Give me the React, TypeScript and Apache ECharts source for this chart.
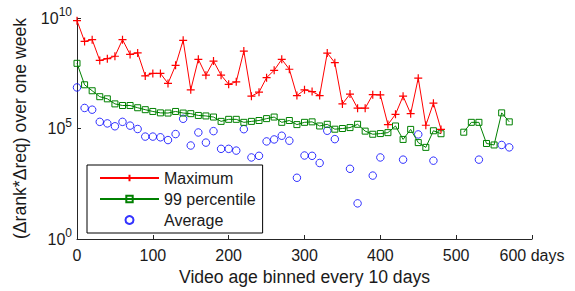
import React, { useEffect, useRef } from "react";
import * as echarts from "echarts";

const days = [
  0, 10, 20, 30, 40, 50, 60, 70, 80, 90, 100, 110, 120, 130, 140, 150, 160, 170, 180, 190,
  200, 210, 220, 230, 240, 250, 260, 270, 280, 290, 300, 310, 320, 330, 340, 350, 360, 370, 380, 390,
  400, 410, 420, 430, 440, 450, 460, 470, 480, 490, 500, 510, 520, 530, 540, 550, 560, 570,
];

const maximum = [
  7.6e9, 8.7e8, 1.05e9, 1.2e8, 1.45e8, 1.86e8, 1.05e9, 2.24e8, 2.63e8, 2.4e7,
  3.1e7, 3.1e7, 1.1e7, 7.2e7, 9.8e8, 5.6e6, 1.35e8, 2.6e7, 1.12e8, 2.6e7,
  1.0e7, 1.3e7, 3.2e8, 2.9e6, 4.4e6, 2.0e7, 4.3e7, 1.35e8, 4.8e7, 3.1e6,
  5.6e6, 4.7e6, 3.1e6, 2.6e8, 9.5e7, 1.3e6, 3.6e6, 8.3e5, 8.3e5, 3.4e6,
  3.3e6, 1.5e5, 4.4e5, 2.9e6, 4.7e5, 1.9e7, 1.4e5, 1.4e6, 9.1e4, null,
  null, null, null, null, null, null, null, null,
];

const percentile99 = [
  8.9e7, 9.5e6, 5.1e6, 2.75e6, 2.2e6, 1.3e6, 1.1e6, 1.1e6, 8.7e5, 7.1e5,
  5.9e5, 5.1e5, 5.0e5, 5.9e5, 5.0e5, 4.7e5, 3.9e5, 3.7e5, 3.3e5, 2.1e5,
  2.6e5, 2.6e5, 1.9e5, 2.1e5, 2.3e5, 2.8e5, 3.3e5, 1.9e5, 2.3e5, 1.5e5,
  1.9e5, 2.0e5, 1.3e5, 1.55e5, 9.3e4, 1.0e5, 1.1e5, 1.55e5, 7.6e4, 5.5e4,
  5.9e4, 6.5e4, 1.3e5, 3.2e4, 9.1e4, 2.3e4, 1.4e4, 7.9e4, 5.8e4, null,
  null, 6.8e4, 1.9e5, 1.9e5, 2.1e4, 1.8e4, 5.1e5, 2.0e5,
];

const average = [
  7.2e6, 8.5e5, 7.1e5, 2.0e5, 1.7e5, 1.26e5, 2.0e5, 1.35e5, 9.5e4, 4.3e4,
  4.3e4, 4.0e4, 3.0e4, 5.6e4, 2.75e5, 1.7e4, 6.6e4, 2.3e4, 7.6e4, 1.2e4,
  1.2e4, 1.0e4, 9.3e4, 4.9e3, 5.8e3, 2.6e4, 3.2e4, 4.7e4, 2.8e4, 5.9e2,
  6.0e3, 5.8e3, 2.75e3, 7.9e4, 3.3e4, null, 1.5e3, 41, null, 7.4e2,
  4.9e3, null, null, 3.9e3, null, 5.4e4, null, 3.5e3, null, null,
  null, null, null, 3.9e3, null, null, 1.8e4, 1.4e4,
];

const seriesNames = ["Maximum", "99 percentile", "Average"];
const xTicks = [0, 100, 200, 300, 400, 500, 600];
const xUnit = "days";

const FONT = "Liberation Sans, Arial, sans-serif";
const TXT = "#1a1a1a";

function pairs(vals: (number | null)[]) {
  return days.map((d, i) => [d, vals[i] == null ? null : vals[i]]);
}

export default function App() {
  const ref = useRef<HTMLDivElement>(null);
  useEffect(() => {
    if (!ref.current) return;
    const chart = echarts.init(ref.current, undefined, { renderer: "svg" });
    chart.setOption({
      animation: false,
      textStyle: { fontFamily: FONT },
      grid: { left: 77, right: 43, top: 18, bottom: 49, containLabel: false },
      legend: {
        orient: "vertical",
        left: 87,
        top: 165,
        padding: [5, 7, 5, 12],
        itemGap: 5,
        itemWidth: 59,
        itemHeight: 8,
        borderColor: "#000",
        borderWidth: 1,
        backgroundColor: "#fff",
        textStyle: { fontFamily: FONT, fontSize: 16, color: TXT, lineHeight: 16 },
        data: seriesNames,
      },
      xAxis: {
        type: "value",
        min: xTicks[0],
        max: xTicks[xTicks.length - 1],
        interval: 100,
        name: "Video age binned every 10 days",
        nameLocation: "middle",
        nameGap: 29,
        nameTextStyle: { fontFamily: FONT, fontSize: 17.6, color: TXT, verticalAlign: "top" },
        axisLine: { lineStyle: { color: "#262626", width: 1 } },
        axisTick: { inside: true, length: 4, lineStyle: { color: "#262626" } },
        axisLabel: {
          fontFamily: FONT,
          fontSize: 16,
          color: TXT,
          margin: 8,
          showMaxLabel: true,
          showMinLabel: true,
          formatter: (v: number) => (v === xTicks[xTicks.length - 1] ? `${v} ${xUnit}` : String(v)),
        },
        splitLine: { show: false },
      },
      yAxis: {
        type: "log",
        logBase: 10,
        min: 1,
        max: 1e10,
        interval: 5,
        name: "(Δrank*Δreq) over one week",
        nameLocation: "middle",
        nameGap: 48,
        nameTextStyle: { fontFamily: FONT, fontSize: 17.6, color: TXT },
        axisLine: { show: true, lineStyle: { color: "#262626", width: 1 } },
        axisTick: { show: true, inside: true, length: 4, lineStyle: { color: "#262626" } },
        minorTick: { show: false },
        splitLine: { show: false },
        axisLabel: {
          margin: 5,
          formatter: (v: number) => `{b|10}{s|${Math.round(Math.log10(v))}}`,
          rich: {
            b: { fontFamily: FONT, fontSize: 16, color: TXT },
            s: { fontFamily: FONT, fontSize: 12, color: TXT, padding: [0, 0, 12, 0] },
          },
        },
      },
      series: [
        {
          name: seriesNames[0],
          type: "line",
          data: pairs(maximum),
          symbol: "path://M0,5L10,5M5,0L5,10",
          symbolSize: 8,
          showAllSymbol: true,
          connectNulls: false,
          lineStyle: { color: "#ff0000", width: 1 },
          itemStyle: { color: "#ff0000", borderColor: "#ff0000", borderWidth: 1.2 },
          z: 3,
        },
        {
          name: seriesNames[1],
          type: "line",
          data: pairs(percentile99),
          symbol: "rect",
          symbolSize: 6,
          showAllSymbol: true,
          connectNulls: false,
          lineStyle: { color: "#008000", width: 1 },
          itemStyle: { color: "transparent", borderColor: "#008000", borderWidth: 1 },
          z: 2,
        },
        {
          name: seriesNames[2],
          type: "scatter",
          data: pairs(average).filter((p) => p[1] != null),
          symbol: "circle",
          symbolSize: 7.5,
          itemStyle: { color: "transparent", borderColor: "#0000ff", borderWidth: 1 },
          z: 1,
        },
      ],
    });
    return () => chart.dispose();
  }, []);
  return (
    <div
      ref={ref}
      style={{ position: "fixed", left: 0, top: 0, width: 575, height: 291, background: "#fff" }}
    />
  );
}
